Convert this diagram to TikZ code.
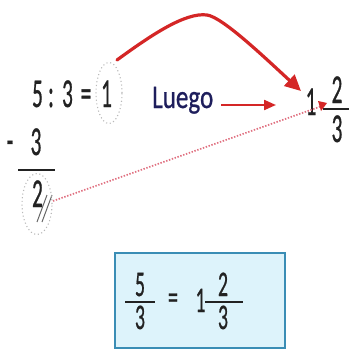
\documentclass[tikz,border=0pt]{standalone}
\usepackage{fontspec}
\usepackage{graphicx}
\setmainfont{Carlito}
\newfontfamily\heavyfont{Carlito}[FakeBold=0.9]
\usetikzlibrary{arrows.meta,shapes.geometric}
\definecolor{ink}{HTML}{222222}
\definecolor{navy}{HTML}{1E1E5C}
\definecolor{arrred}{HTML}{D42626}
\definecolor{dotred}{HTML}{E07080}
\definecolor{boxfill}{HTML}{DDF3FB}
\definecolor{boxline}{HTML}{3A8DB5}
\newcommand{\bigdg}[1]{{\heavyfont\fontsize{41}{46}\selectfont\scalebox{0.52}[1]{#1}}}
\newcommand{\boxdg}[1]{{\heavyfont\fontsize{36}{40}\selectfont\scalebox{0.55}[1]{#1}}}
\tikzset{
  dg/.style={inner sep=0pt, anchor=base, text=ink},
  bar/.style={line width=1.7pt, draw=ink},
  ringdot/.style={draw=gray!55, ellipse, line width=1.1pt, dash pattern=on 1.1pt off 2.6pt, inner sep=0pt},
  redarr/.style={draw=arrred, line width=2.2pt, -{Triangle[length=12pt,width=10pt]}},
  bigarr/.style={draw=arrred, line width=3.2pt, line cap=round, -{Triangle[length=16pt,width=15pt]}},
  dotline/.style={draw=dotred, line width=1.7pt, dash pattern=on 1.4pt off 1.6pt},
}
\begin{document}
\begin{tikzpicture}[x=1pt,y=-1pt]
\useasboundingbox (0,0) rectangle (349,353);
% ---- division 5:3=1
\node[dg] (n5) at (37.5,107) {\bigdg{5}};
\node[dg] (ncol) at (51,107) {\bigdg{:}};
\node[dg] (n3) at (67.5,107) {\bigdg{3}};
\node[dg] (neq) at (86,107) {\bigdg{=}};
\node[dg] (n1) at (106.5,107) {\bigdg{1}};
\node[ringdot, minimum width=26pt, minimum height=61pt] (ring1) at (109,93) {};
% ---- subtraction
\node[dg] (nminus) at (10,154) {\bigdg{-}};
\node[dg] (ns3) at (36,155) {\bigdg{3}};
\draw[bar] (18,170) -- (55,170);
\node[dg] (nr2) at (37.5,207) {\bigdg{2}};
\draw[draw=gray!80!black, line width=1pt] (47,195) -- (37,222);
\draw[draw=gray!80!black, line width=1pt] (52,195) -- (42,222);
\node[ringdot, minimum width=30pt, minimum height=61pt] (ring2) at (37,204) {};
% ---- Luego
\node[inner sep=0pt, anchor=base west, text=navy] (luego) at (152,108)
  {{\heavyfont\fontsize{33}{38}\selectfont\scalebox{0.76}[1]{Luego}}};
\coordinate (la0) at (221,105);
\coordinate (la1) at (276,105);
\draw[redarr] (la0) -- (la1);
% ---- result 1 2/3
\node[dg] (r1) at (311,115) {\bigdg{1}};
\node[dg] (r2) at (337,103) {\bigdg{2}};
\node[dg] (r3) at (337,142) {\bigdg{3}};
\draw[bar] (323,109) -- (349,109);
% ---- big curved arrow
\coordinate (c0) at (117,60);
\coordinate (c1) at (301,91);
\draw[bigarr] (c0) .. controls (150,36) and (185,12) .. (207,15)
  .. controls (222,17) and (262,55) .. (c1);
% ---- dotted line
\coordinate (d0) at (53,201);
\coordinate (d1) at (322,106);
\draw[dotline] (d0) -- (d1);
\draw[draw=none, fill=arrred] (318,101) -- (327,103) -- (321,111) -- cycle;
% ---- box
\draw[fill=boxfill, draw=boxline, line width=2pt] (115,253) rectangle (285,348);
\node[dg] (b5) at (140,296) {\boxdg{5}};
\draw[bar] (125,302) -- (155,302);
\node[dg] (b3) at (140,329) {\boxdg{3}};
\node[dg] (beq) at (173,309) {\boxdg{=}};
\node[dg] (b1) at (200.5,312) {\boxdg{1}};
\node[dg] (b2) at (223,296) {\boxdg{2}};
\draw[bar] (205,302) -- (243,302);
\node[dg] (bb3) at (223,329) {\boxdg{3}};
\end{tikzpicture}
\end{document}
